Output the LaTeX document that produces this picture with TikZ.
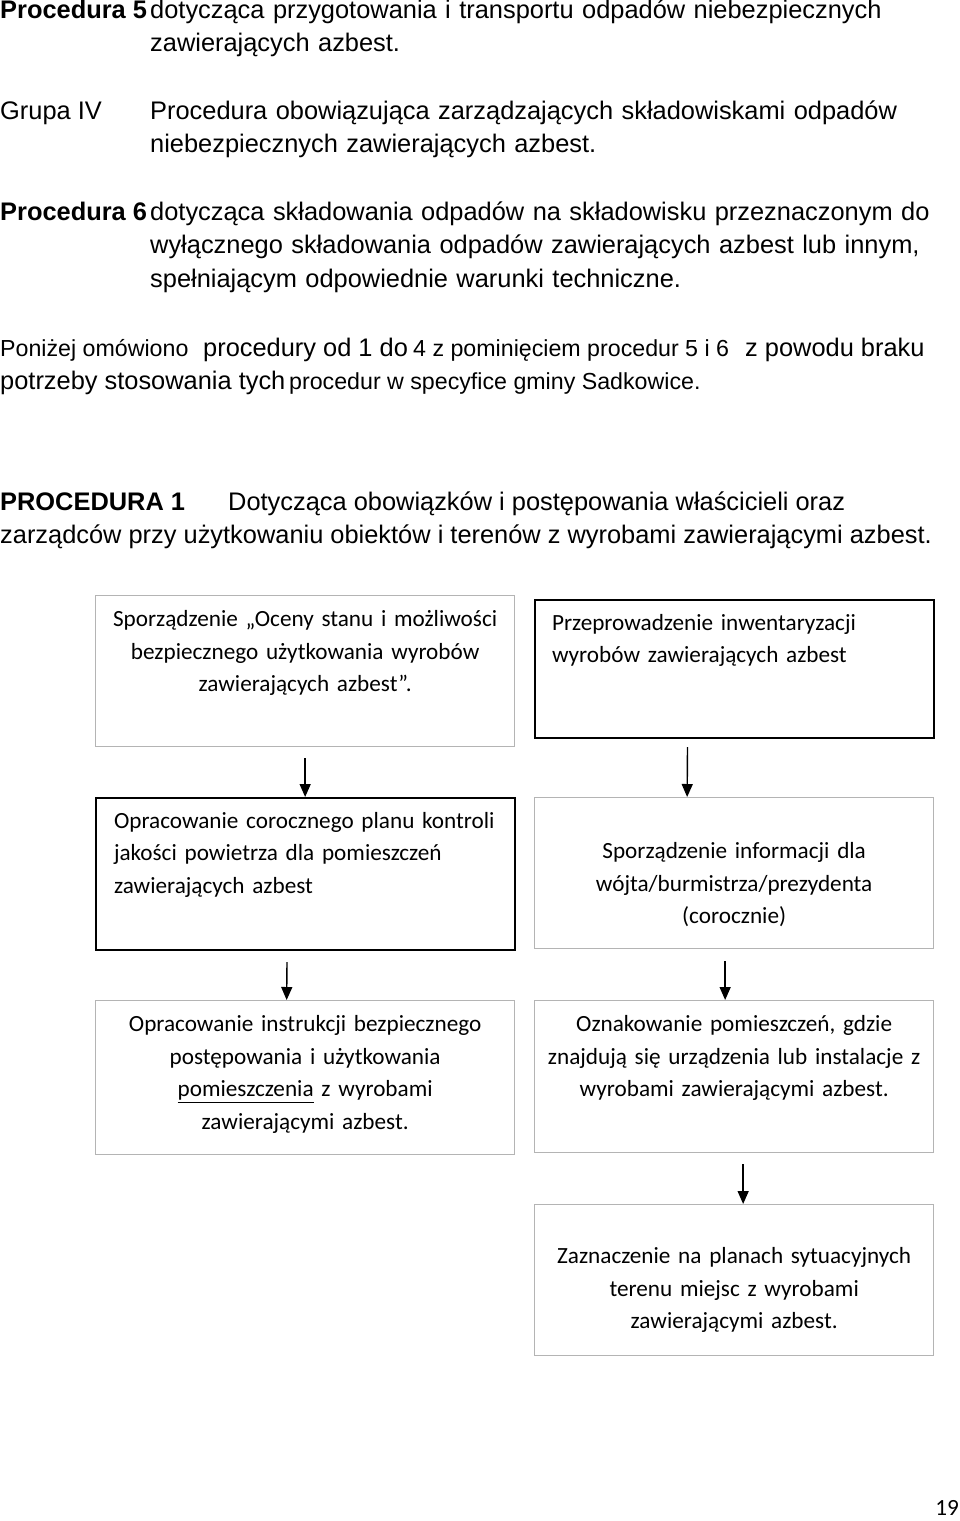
\documentclass[tikz,border=0pt]{standalone}
\usepackage{fontspec}
\setmainfont{Liberation Sans}
\newfontfamily\calibri{Carlito}
\usetikzlibrary{arrows.meta}
\definecolor{BoxGray}{HTML}{B4B4B4}

\begin{document}
\begin{tikzpicture}[x=1pt, y=-1pt,
    big/.style={anchor=base west, inner sep=0pt, font=\fontsize{25.4}{33.5}\selectfont},
    small/.style={anchor=base west, inner sep=0pt, font=\fontsize{23.2}{33.5}\selectfont},
    head/.style={big, font=\bfseries\fontsize{25.4}{33.5}\selectfont},
    para/.style={big, text width=#1, align=left},
    box/.style={anchor=north west, inner ysep=0pt, font=\calibri\fontsize{23.2}{32.6}\selectfont},
    graybox/.style={box, draw=BoxGray, line width=1.3pt, inner xsep=0pt, align=center},
    blackbox/.style={box, draw=black, line width=2pt, inner xsep=17pt, align=left},
    arrow/.style={-{Triangle[length=13pt, width=11pt]}, line width=1.4pt}
  ]
    \useasboundingbox (0,0) rectangle (960,1521);

    % procedures 5, 6 and group IV
    \node[head] (p5) at (0,18) {Procedura 5};
    \node[para=800pt] (p5txt) at (150,18) {dotycząca przygotowania i transportu odpadów niebezpiecznych\\zawierających azbest.};
    \node[big] (g4) at (0,119) {Grupa IV};
    \node[para=800pt] (g4txt) at (150,119) {Procedura obowiązująca zarządzających składowiskami odpadów\\niebezpiecznych zawierających azbest.};
    \node[head] (p6) at (0,220) {Procedura 6};
    \node[para=800pt] (p6txt) at (150,220) {dotycząca składowania odpadów na składowisku przeznaczonym do\\wyłącznego składowania odpadów zawierających azbest lub innym,\\spełniającym odpowiednie warunki techniczne.};

    % note
    \node[small] (n1) at (0,356) {Poniżej omówiono};
    \node[big] (n2) at (203,356) {procedury od 1 do};
    \node[small] (n3) at (413,356) {4 z pominięciem procedur 5 i 6};
    \node[big] (n4) at (745,356) {z powodu braku};
    \node[big] (n5) at (0,389) {potrzeby stosowania tych};
    \node[small] (n6) at (289,389) {procedur w specyfice gminy Sadkowice.};

    % procedure 1
    \node[head] (pr1) at (0,510) {PROCEDURA 1};
    \node[big] (pr1txt) at (228,510) {Dotycząca obowiązków i postępowania właścicieli oraz};
    \node[big] (pr1txt2) at (0,543) {zarządców przy użytkowaniu obiektów i terenów z wyrobami zawierającymi azbest.};

    % flow boxes
    \node[graybox, text width=419pt, text height=31pt, text depth=120pt] (b1) at (95,595)
      {Sporządzenie „Oceny stanu i możliwości\\bezpiecznego użytkowania wyrobów\\zawierających azbest”.};
    \node[blackbox, text width=365pt, text height=30pt, text depth=108pt] (b2) at (534,599)
      {Przeprowadzenie inwentaryzacji\\wyrobów zawierających azbest};
    \node[blackbox, inner xsep=18pt, text width=383pt, text height=30pt, text depth=122pt] (b3) at (95,797)
      {Opracowanie corocznego planu kontroli\\jakości powietrza dla pomieszczeń\\zawierających azbest};
    \node[graybox, text width=399pt, text height=61pt, text depth=90pt] (b4) at (534,797)
      {Sporządzenie informacji dla\\wójta/burmistrza/prezydenta\\(corocznie)};
    \node[graybox, text width=419pt, text height=31pt, text depth=123pt] (b5) at (95,1000)
      {Opracowanie instrukcji bezpiecznego\\postępowania i użytkowania\\\underline{pomieszczenia} z wyrobami\\zawierającymi azbest.};
    \node[graybox, text width=399pt, text height=31pt, text depth=121pt] (b6) at (534,1000)
      {Oznakowanie pomieszczeń, gdzie\\znajdują się urządzenia lub instalacje z\\wyrobami zawierającymi azbest.};
    \node[graybox, text width=399pt, text height=59pt, text depth=92pt] (b7) at (534,1204)
      {Zaznaczenie na planach sytuacyjnych\\terenu miejsc z wyrobami\\zawierającymi azbest.};

    \draw[arrow] ([yshift=-11pt]b1.south) -- (b1.south |- b3.north);
    \draw[arrow] ([xshift=-47pt,yshift=-8pt]b2.south) -- ([xshift=-47pt]b4.north);
    \draw[arrow] ([xshift=-18.5pt,yshift=-11pt]b3.south) -- ([xshift=-18.5pt]b5.north);
    \draw[arrow] ([xshift=-9pt,yshift=-12pt]b4.south) -- ([xshift=-9pt]b6.north);
    \draw[arrow] ([xshift=9pt,yshift=-11pt]b6.south) -- ([xshift=9pt]b7.north);

    \node[anchor=base east, inner sep=0pt, font=\calibri\fontsize{23.2}{28}\selectfont] (pnum) at (959,1515) {19};
  \end{tikzpicture}
\end{document}
